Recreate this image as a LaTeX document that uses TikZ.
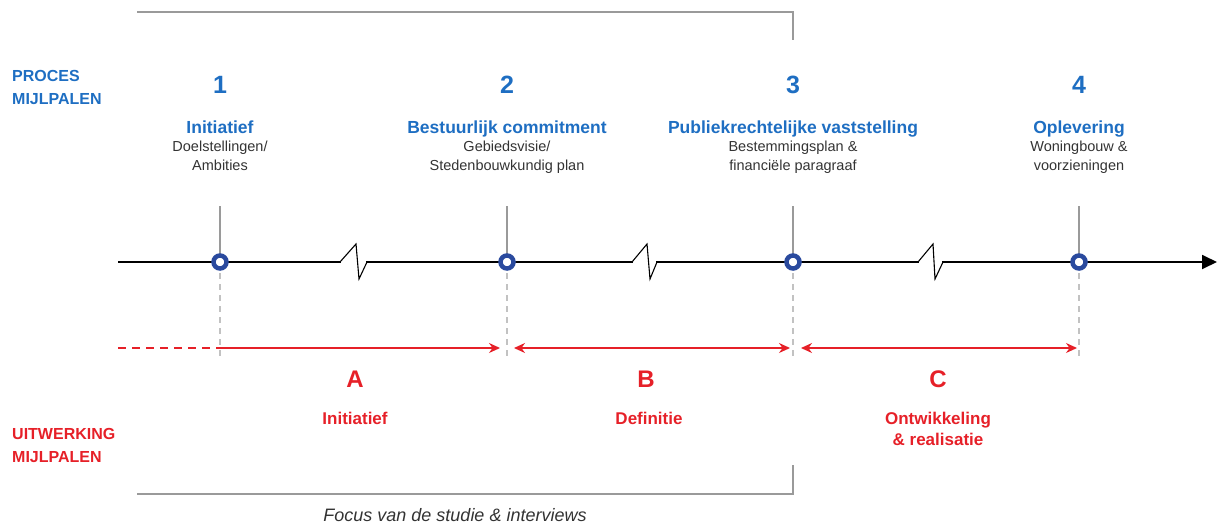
\documentclass[tikz,border=0pt]{standalone}
\usepackage{fontspec}
\setmainfont{Liberation Sans}
\usetikzlibrary{arrows.meta}
\definecolor{procblue}{HTML}{1E6EC2}
\definecolor{ringblue}{HTML}{2A4A9E}
\definecolor{phasered}{HTML}{E62028}
\definecolor{subgray}{HTML}{333333}
\definecolor{rulegray}{HTML}{9A9A9A}

\begin{document}
\begin{tikzpicture}[x=1pt,y=-1pt,
    num/.style={text=procblue,font=\fontsize{25}{30}\selectfont\bfseries,anchor=base,inner sep=0pt},
    mtitle/.style={text=procblue,font=\fontsize{17.5}{21}\selectfont\bfseries,anchor=base,inner sep=0pt},
    msub/.style={text=subgray,font=\fontsize{14.5}{18.5}\selectfont,align=center,anchor=base,inner sep=0pt},
    side/.style={font=\fontsize{16}{22.5}\selectfont\bfseries,align=left,anchor=base west,inner sep=0pt},
    letter/.style={text=phasered,font=\fontsize{24}{28}\selectfont\bfseries,anchor=base,inner sep=0pt},
    plabel/.style={text=phasered,font=\fontsize{17}{21}\selectfont\bfseries,align=center,anchor=base,inner sep=0pt},
    ring/.style={circle,draw=ringblue,line width=4.5pt,fill=white,inner sep=0pt,minimum size=13pt},
    phase/.style={draw=phasered,line width=1.5pt},
    tip/.style={arrows={#1},>={Stealth[length=11pt,width=10pt]}},
    bracket/.style={draw=rulegray,line width=1.5pt}]
  \useasboundingbox (0,0) rectangle (1225,525);

  % side labels
  \node[side,text=procblue] (proc) at (12,104) {PROCES\\MIJLPALEN};
  \node[side,text=phasered] (uitw) at (12,462) {UITWERKING\\MIJLPALEN};

  % focus bracket
  \draw[bracket] (137,12) -| (793,40);
  \draw[bracket] (137,494) -| (793,465);
  \node[text=subgray,font=\fontsize{18}{22}\selectfont\itshape,anchor=base] (focus) at (455,521) {Focus van de studie \& interviews};

  % milestones
  \node[num] (n1) at (220,93) {1};
  \node[num] (n2) at (507,93) {2};
  \node[num] (n3) at (793,93) {3};
  \node[num] (n4) at (1079,93) {4};
  \node[mtitle] (t1) at (220,133) {Initiatief};
  \node[mtitle] (t2) at (507,133) {Bestuurlijk commitment};
  \node[mtitle] (t3) at (793,133) {Publiekrechtelijke vaststelling};
  \node[mtitle] (t4) at (1079,133) {Oplevering};
  \node[msub] (s1) at (220,170) {Doelstellingen/\\Ambities};
  \node[msub] (s2) at (507,170) {Gebiedsvisie/\\Stedenbouwkundig plan};
  \node[msub] (s3) at (793,170) {Bestemmingsplan \&\\financiële paragraaf};
  \node[msub] (s4) at (1079,170) {Woningbouw \&\\voorzieningen};

  % timeline
  \coordinate (tstart) at (118,262);
  \coordinate (tend) at (1217,262);
  \coordinate (top) at (0,206);
  \coordinate (bot) at (0,357);
  \coordinate (arr) at (0,348);
  \coordinate (m1) at (220,262);
  \coordinate (m2) at (507,262);
  \coordinate (m3) at (793,262);
  \coordinate (m4) at (1079,262);
  \draw[rulegray,line width=1.2pt] (m1|-top) -- (m1) (m2|-top) -- (m2) (m3|-top) -- (m3) (m4|-top) -- (m4);
  \draw[rulegray!60,line width=1.2pt,dash pattern=on 6pt off 5pt] (m1) -- (m1|-bot) (m2) -- (m2|-bot) (m3) -- (m3|-bot) (m4) -- (m4|-bot);
  \draw[line width=1.8pt,-{Triangle[length=15pt,width=14pt]}] (tstart) -- (341,262)
    (366,262) -- (633,262) (656,262) -- (919,262) (942,262) -- (tend);
  \draw[line width=1.1pt,line join=miter]
    (340,262) -- (356,244) -- (359,279) -- (367,262)
    (632,262) -- (647,244) -- (650,279) -- (657,262)
    (918,262) -- (933,244) -- (935,279) -- (943,262);
  \node[ring] (r1) at (m1) {};
  \node[ring] (r2) at (m2) {};
  \node[ring] (r3) at (m3) {};
  \node[ring] (r4) at (m4) {};

  % phases
  \draw[phase,dash pattern=on 8pt off 6pt] (tstart|-arr) -- (m1|-arr);
  \draw[phase,tip=->,shorten >=7pt] (m1|-arr) -- (m2|-arr);
  \draw[phase,tip=<->,shorten <=7pt,shorten >=3pt] (m2|-arr) -- (m3|-arr);
  \draw[phase,tip=<->,shorten <=8pt,shorten >=2pt] (m3|-arr) -- (m4|-arr);
  \node[letter] (pa) at (355,387) {A};
  \node[letter] (pb) at (646,387) {B};
  \node[letter] (pc) at (938,387) {C};
  \node[plabel] (la) at (355,424) {Initiatief};
  \node[plabel] (lb) at (649,424) {Definitie};
  \node[plabel] (lc) at (938,445) {Ontwikkeling\\\& realisatie};
\end{tikzpicture}
\end{document}
